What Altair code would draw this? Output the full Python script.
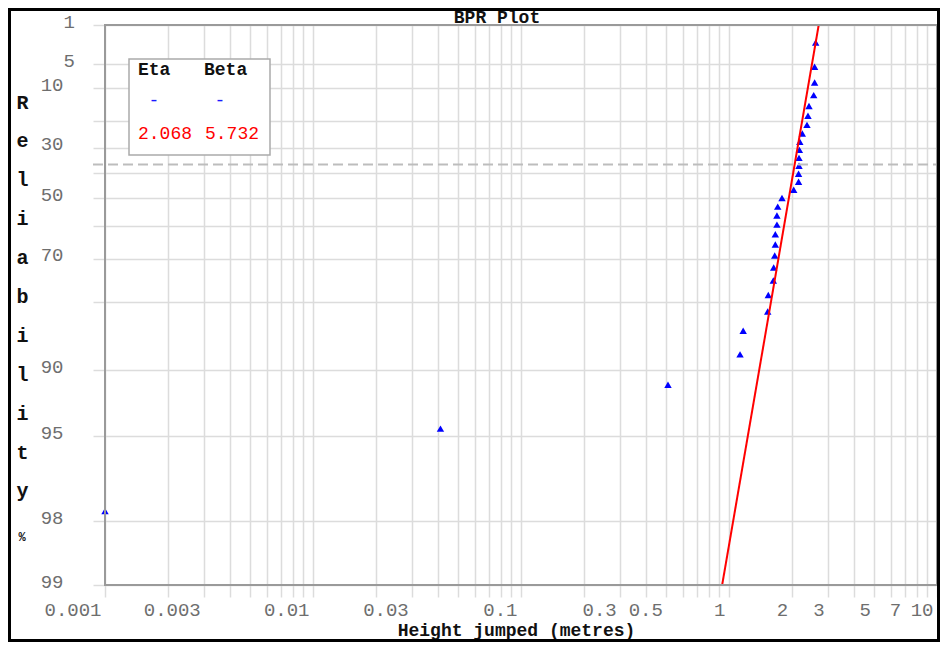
import math
import altair as alt
import pandas as pd

# ---------------- data ----------------
HEIGHT_M = [0.001, 0.041, 0.509, 1.13, 1.17, 1.535, 1.545, 1.633, 1.64, 1.659,
            1.67, 1.67, 1.70, 1.70, 1.715, 1.798, 2.047, 2.16, 2.16, 2.17,
            2.17, 2.18, 2.19, 2.251, 2.371, 2.397, 2.424, 2.554, 2.58, 2.58, 2.611]
RELIABILITY_PCT = [97.77, 94.59, 91.40, 88.22, 85.03, 81.85, 78.66, 75.48, 72.29, 69.11,
                   65.92, 62.74, 59.55, 56.37, 53.18, 50.00, 46.82, 43.63, 40.45, 37.26,
                   34.08, 30.89, 27.71, 24.52, 21.34, 18.15, 14.97, 11.78, 8.60, 5.41, 2.23]
ETA = 2.068
BETA = 5.732
FIT_X = [0.001, 10.0]

X_LABELS = [0.001, 0.003, 0.01, 0.03, 0.1, 0.3, 0.5, 1, 2, 3, 5, 7, 10]
Y_GRID_PCT = [1, 5, 10, 20, 30, 40, 50, 60, 70, 80, 90, 95, 98, 99]
Y_UNLABELED = [20, 40, 60, 80]

MONO = "Liberation Mono"
W, H = 832, 560


def weib(r):
    return math.log(-math.log(r / 100.0))


X_GRID = [round(m * 10.0 ** k, 6) for k in range(-3, 1) for m in range(1, 10)] + [10.0]
Y_GRID = [weib(r) for r in Y_GRID_PCT]
Y_TOP, Y_BOTTOM = weib(1), weib(99)

pts = pd.DataFrame({"x": HEIGHT_M, "R": RELIABILITY_PCT})
fit = pd.DataFrame({"x": FIT_X})
one = pd.DataFrame({"k": [0]})
char_line = pd.DataFrame({"yt": [0.0]})

xs = alt.Scale(type="log", domain=[0.001, 10], nice=False)
ys = alt.Scale(domain=[Y_BOTTOM, Y_TOP], nice=False, zero=False)

GRID_C = "#dcdcdc"
LAB_C = "#6e6e6e"

x_label_list = ",".join(str(v) for v in X_LABELS)
x_axis = alt.Axis(
    values=X_GRID, grid=True, gridColor=GRID_C, gridWidth=1.5,
    ticks=True, tickColor=GRID_C, tickWidth=1.5, tickSize=12, domain=False,
    labelExpr=f"indexof([{x_label_list}], datum.value) >= 0 ? '' + datum.value : ''",
    labelAlign="right", labelOffset=-4, labelPadding=3, labelFlush=False, labelOverlap=False,
    labelFont=MONO, labelFontSize=19, labelColor=LAB_C,
    title="Height jumped (metres)", titleFont=MONO, titleFontSize=18, titleFontWeight="bold",
    titleColor="#111111", titleX=411, titleY=50, titleBaseline="alphabetic", titleAlign="center",
)

y_unl = ",".join(str(v) for v in Y_UNLABELED)
rexpr = "round(100*exp(-exp(datum.value)))"
y_axis = alt.Axis(
    values=Y_GRID, grid=True, gridColor=GRID_C, gridWidth=1.5,
    ticks=True, tickColor=GRID_C, tickWidth=1.5, tickSize=12, domain=False,
    labelExpr=f"indexof([{y_unl}], {rexpr}) >= 0 ? '' : '' + {rexpr}",
    labelAlign={"condition": {"test": "datum.value > 0.95", "value": "left"}, "value": "right"},
    labelBaseline="middle", labelOffset=-4, labelPadding=30, labelFlush=False, labelOverlap=False,
    labelFont=MONO, labelFontSize=19, labelColor=LAB_C,
    title=list("Reliability"), titleAngle=0, titleAlign="center", titleBaseline="top",
    titleX=-83, titleY=67, titleLineHeight=38.9,
    titleFont=MONO, titleFontSize=20, titleFontWeight="bold", titleColor="#111111",
)

X = alt.X("x:Q", scale=xs, axis=x_axis)
Y = alt.Y("yt:Q", scale=ys, axis=y_axis)

points = alt.Chart(pts).transform_calculate(
    yt="log(-log(datum.R/100))"
).mark_point(shape="triangle-up", filled=True, color="#0000ff", size=55, opacity=1).encode(x=X, y=Y)

fit_line = alt.Chart(fit).transform_calculate(
    yt=f"{BETA}*(log(datum.x) - log({ETA}))"
).mark_line(color="#ff0000", strokeWidth=2, clip=True).encode(x=X, y=Y)

char_rule = alt.Chart(char_line).mark_rule(
    color="#bdbdbd", strokeWidth=2, strokeDash=[10, 5]
).encode(y=alt.Y("yt:Q", scale=ys, axis=y_axis), x=alt.value(-12), x2=alt.value(W))

border = alt.Chart(one).mark_rect(fillOpacity=0, stroke="#9a9a9a", strokeWidth=2).encode(
    x=alt.value(0), x2=alt.value(W), y=alt.value(0), y2=alt.value(H))

legend_box = alt.Chart(one).mark_rect(fill="white", stroke="#aaaaaa", strokeWidth=1.5).encode(
    x=alt.value(24), x2=alt.value(165), y=alt.value(34), y2=alt.value(130))

frame = alt.Chart(one).mark_rect(fillOpacity=0, stroke="black", strokeWidth=3).encode(
    x=alt.value(-95.5), x2=alt.value(833.5), y=alt.value(-15.5), y2=alt.value(615.5))


def txt(s, x, y, color, size, weight="normal", align="left", baseline="middle"):
    return alt.Chart(one).mark_text(
        text=s, align=align, baseline=baseline, font=MONO, fontSize=size,
        fontWeight=weight, color=color,
    ).encode(x=alt.value(x), y=alt.value(y))


texts = [
    txt("BPR Plot", 392, -2, "#111111", 18, "bold", align="center", baseline="alphabetic"),
    txt("Eta", 33, 45, "#111111", 18, "bold"),
    txt("Beta", 99, 45, "#111111", 18, "bold"),
    txt("-", 49, 76, "#1a1aff", 18, align="center"),
    txt("-", 115, 76, "#1a1aff", 18, align="center"),
    txt(f"{ETA:.3f}", 33, 109, "#ff0000", 18),
    txt(f"{BETA:.3f}", 100, 109, "#ff0000", 18),
    txt("%", -83, 512, "#111111", 12, "bold", align="center"),
]

chart = alt.layer(
    points, fit_line, char_rule, border, legend_box, *texts, frame
).properties(
    width=W, height=H,
    padding={"left": 97, "top": 17, "right": 3, "bottom": 57},
    autosize=alt.AutoSizeParams(type="none"),
).configure_view(stroke=None).configure(background="white")

chart.save("out.html", embed_options={"renderer": "svg", "actions": False})
